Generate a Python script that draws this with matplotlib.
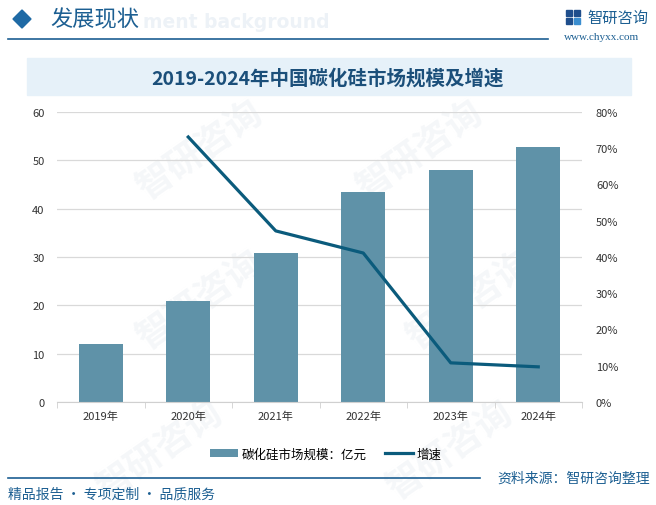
import numpy as np
import matplotlib
matplotlib.use("Agg")
import matplotlib.pyplot as plt
from matplotlib.patches import Rectangle, Polygon
from matplotlib.lines import Line2D

plt.rcParams['font.family'] = ['Noto Sans CJK SC', 'DejaVu Sans']

# data
years = ["2019年", "2020年", "2021年", "2022年", "2023年", "2024年"]
market_size = [12.0, 21.0, 30.9, 43.5, 48.0, 52.8]   # 亿元
growth_years = ["2020年", "2021年", "2022年", "2023年", "2024年"]
growth = [73.1, 47.2, 41.1, 10.8, 9.7]               # %
left_ticks = [0, 10, 20, 30, 40, 50, 60]
right_ticks = [0, 10, 20, 30, 40, 50, 60, 70, 80]

W, H = 656, 506
bar_color = "#5f92a8"
line_color = "#0b5b7c"
blue = "#1c5f92"

fig = plt.figure(figsize=(W / 100, H / 100), dpi=100)


def px(x, y):
    return x / W, 1 - y / H


# faint watermarks (behind the chart)
for (wx, wy) in [(200, 150), (420, 150), (200, 300), (470, 300), (160, 450), (450, 450)]:
    fig.text(*px(wx, wy), "智研咨询", fontsize=26, color="#f5f7f9", rotation=35,
             ha="center", va="center", fontweight="bold", zorder=-5)

# header
fig.text(*px(143, 22), "ment background", fontsize=13.5, color="#edf2f7",
         ha="left", va="center", fontweight="bold", family="DejaVu Sans", zorder=-4)
diamond = Polygon([px(22, 11), px(31, 20), px(22, 29), px(13, 20)], closed=True,
                  transform=fig.transFigure, color="#1f6aa5", zorder=2)
fig.patches.append(diamond)
fig.text(*px(50, 20), "发展现状", fontsize=16, color=blue, ha="left", va="center", zorder=3)
fig.add_artist(Line2D([8 / W, 548 / W], [1 - 40 / H, 1 - 40 / H], color=blue, lw=1.2,
                      transform=fig.transFigure))

# logo
for (rx, ry, rw, rh, c) in [(566, 11, 6, 6, "#1f4e8c"), (574, 11, 6, 6, "#1f4e8c"),
                            (566, 19, 6, 6, "#1f4e8c"), (574, 19, 6, 6, "#3b8ed0")]:
    fig.patches.append(Rectangle(px(rx, ry + rh), rw / W, rh / H, transform=fig.transFigure,
                                 color=c))
fig.text(*px(587, 18), "智研咨询", fontsize=11, color=blue, ha="left", va="center")
fig.text(*px(602, 38), "www.chyxx.com", fontsize=8, color=blue, ha="center", va="center",
         family="Liberation Serif")

# title box
fig.patches.append(Rectangle(px(27, 96), (631 - 27) / W, (96 - 59) / H,
                             transform=fig.transFigure, color="#e6f1f9", zorder=-3))
fig.text(*px(328, 79), "2019-2024年中国碳化硅市场规模及增速", fontsize=14, color="#1b4f7a",
         ha="center", va="center", fontweight="bold")

# chart
ax = fig.add_axes([57 / W, 1 - 403 / H, (582 - 57) / W, (403 - 113) / H])
ax.patch.set_alpha(0)
x = np.arange(len(years))
ax.bar(x, market_size, width=0.5, color=bar_color, zorder=2, label="碳化硅市场规模：亿元")
ax.set_ylim(0, 60)
ax.set_yticks(left_ticks)
ax.set_xlim(-0.5, len(years) - 0.5)
ax.set_xticks(x)
ax.set_xticklabels(years)
ax.set_xticks(np.arange(-0.5, len(years)), minor=True)
ax.grid(axis="y", color="#d9d9d9", lw=0.9, zorder=0)
for s in ["top", "left", "right"]:
    ax.spines[s].set_visible(False)
ax.spines["bottom"].set_color("#d0d0d0")
ax.tick_params(axis="y", length=0, labelsize=8, colors="#333333", pad=9)
ax.tick_params(axis="x", which="major", length=0, labelsize=8, colors="#333333", pad=6)
ax.tick_params(axis="x", which="minor", length=4, color="#d0d0d0")

ax2 = ax.twinx()
gx = [years.index(g) for g in growth_years]
ax2.plot(gx, growth, color=line_color, lw=2.3, zorder=3, label="增速")
ax2.set_ylim(0, 80)
ax2.set_yticks(right_ticks)
ax2.set_yticklabels([f"{t}%" for t in right_ticks])
for s in ["top", "left", "right", "bottom"]:
    ax2.spines[s].set_visible(False)
ax2.tick_params(axis="y", length=0, labelsize=8, colors="#333333", pad=10)

h1, l1 = ax.get_legend_handles_labels()
h2, l2 = ax2.get_legend_handles_labels()
fig.legend(h1 + h2, l1 + l2, loc="center", bbox_to_anchor=px(326, 455), ncol=2,
           frameon=False, fontsize=9, handlelength=2.2, handleheight=0.6,
           columnspacing=1.5, handletextpad=0.3)

# footer
fig.add_artist(Line2D([8 / W, 480 / W], [1 - 479 / H, 1 - 479 / H], color=blue, lw=1.2,
                      transform=fig.transFigure))
fig.text(*px(650, 479), "资料来源：智研咨询整理", fontsize=10, color=blue, ha="right", va="center")
fig.text(*px(8, 495), "精品报告 · 专项定制 · 品质服务", fontsize=10, color=blue, ha="left",
         va="center")

fig.savefig("out.png", dpi=100)
